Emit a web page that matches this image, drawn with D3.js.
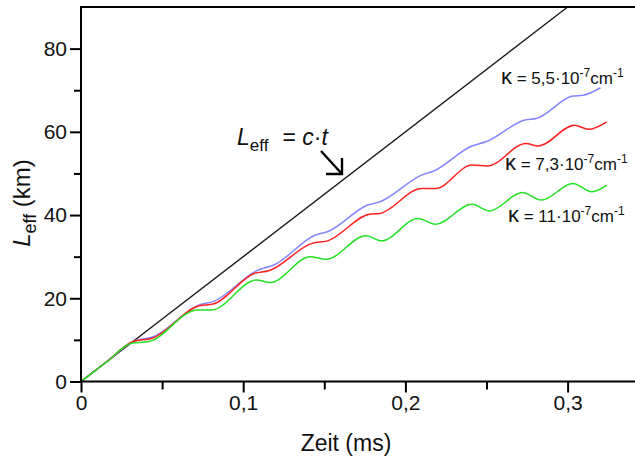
<!DOCTYPE html>
<html>
<head>
<meta charset="utf-8">
<script src="https://cdn.jsdelivr.net/npm/d3@7"></script>
<style>
body{margin:0;background:#fff;}
svg{font-family:"Liberation Sans",Arial,sans-serif;}
</style>
</head>
<body>
<div class="container"></div>
<script>
// time in ms, L_eff in km
var tLight = [0, 0.3];
var lLight = [0, 90];

var tBlue = [0, 0.016, 0.0321, 0.045, 0.0729, 0.0814, 0.1093, 0.1189, 0.1446, 0.152, 0.1768, 0.1843, 0.21, 0.2175, 0.241, 0.2496, 0.2743, 0.2807, 0.3032, 0.3096, 0.3203];
var lBlue = [0, 4.8, 9.6, 10.8, 18.4, 19.2, 26.8, 28, 35.2, 36, 42.4, 43.2, 49.6, 50.6, 56.6, 57.6, 62.9, 63.2, 68.6, 68.8, 70.6];

var tRed = [0, 0.016, 0.0321, 0.0439, 0.0729, 0.0814, 0.1071, 0.1157, 0.1425, 0.152, 0.1778, 0.1843, 0.21, 0.2186, 0.241, 0.2507, 0.2743, 0.2818, 0.3043, 0.3129, 0.3242];
var lRed = [0, 4.8, 9.6, 10.4, 18.2, 18.6, 26, 26.6, 33.2, 33.8, 40.2, 40.4, 46.4, 46.4, 52, 51.8, 57.2, 56.6, 61.6, 60.6, 62.4];

var tGreen = [0, 0.0155, 0.0311, 0.0418, 0.0718, 0.0804, 0.1082, 0.1168, 0.1414, 0.1511, 0.1757, 0.1853, 0.2078, 0.2186, 0.241, 0.2518, 0.2721, 0.2839, 0.3032, 0.315, 0.3242];
var lGreen = [0, 4.6, 9.2, 9.6, 17.2, 17.2, 24.4, 23.8, 30, 29.4, 35, 33.8, 39.2, 37.8, 42.6, 41, 45.4, 43.6, 47.6, 45.6, 47.2];

var xMajor = [0, 0.1, 0.2, 0.3];
var xMinor = [0.05, 0.15, 0.25];
var xLabels = ["0", "0,1", "0,2", "0,3"];
var yMajor = [0, 20, 40, 60, 80];
var yMinor = [10, 30, 50, 70];

var kappaValues = ["5,5", "7,3", "11"];

var series = [
	{t: tBlue, l: lBlue, color: "#8585ff"},
	{t: tRed, l: lRed, color: "#ff2020"},
	{t: tGreen, l: lGreen, color: "#22e022"}
];

var W = 635, H = 462;
var mLeft = 81, mTop = 7, mRight = 635, mBottom = 381.5;

var x = d3.scaleLinear().domain([0, (mRight - mLeft) / 1622]).range([mLeft, mRight]);
var y = d3.scaleLinear().domain([0, 90]).range([mBottom, mTop]);

var svg = d3.select('.container').append('svg')
	.attr("width", W)
	.attr("height", H);

var toPts = function(ts, ls){
	return ts.map(function(t, i){ return [t, ls[i]]; });
};

var line = d3.line()
	.x(function(d){ return x(d[0]); })
	.y(function(d){ return y(d[1]); })
	.curve(d3.curveMonotoneX);

// c*t line
svg.append('path')
	.attr("d", d3.line().x(function(d){return x(d[0]);}).y(function(d){return y(d[1]);})(toPts(tLight, lLight)))
	.attr("fill", "none")
	.attr("stroke", "#1a1a1a")
	.attr("stroke-width", 1.4);

series.forEach(function(s){
	svg.append('path')
		.attr("d", line(toPts(s.t, s.l)))
		.attr("fill", "none")
		.attr("stroke", s.color)
		.attr("stroke-width", 1.5);
});

// axes
var xAxis = d3.axisBottom(x).tickValues(xMajor).tickSize(11).tickPadding(3)
	.tickFormat(function(d, i){ return xLabels[i]; });
svg.append('g').attr("transform", "translate(0," + mBottom + ")").call(xAxis);
svg.append('g').attr("transform", "translate(0," + mBottom + ")")
	.call(d3.axisBottom(x).tickValues(xMinor).tickSize(8).tickFormat(""));

var yAxis = d3.axisLeft(y).tickValues(yMajor).tickSize(11).tickPadding(3);
svg.append('g').attr("transform", "translate(" + mLeft + ",0)").call(yAxis);
svg.append('g').attr("transform", "translate(" + mLeft + ",0)")
	.call(d3.axisLeft(y).tickValues(yMinor).tickSize(7).tickFormat(""));

svg.selectAll('.domain').remove();
svg.selectAll('.tick line').attr("stroke", "#000").attr("stroke-width", 2);
svg.selectAll('.tick text').attr("font-size", 21).attr("fill", "#111")
	.attr("font-family", "Liberation Sans, Arial, sans-serif");

// frame lines: left, bottom, top
svg.append('line').attr("x1", mLeft).attr("x2", mLeft).attr("y1", mTop).attr("y2", mBottom + 1)
	.attr("stroke", "#000").attr("stroke-width", 2);
svg.append('line').attr("x1", mLeft - 1).attr("x2", mRight).attr("y1", mBottom).attr("y2", mBottom)
	.attr("stroke", "#000").attr("stroke-width", 2);
svg.append('line').attr("x1", mLeft - 1).attr("x2", mRight).attr("y1", mTop).attr("y2", mTop)
	.attr("stroke", "#000").attr("stroke-width", 2);

// axis titles
svg.append('text').attr("x", 346).attr("y", 451).attr("text-anchor", "middle")
	.attr("font-size", 23).attr("fill", "#111").text("Zeit (ms)");

var yt = svg.append('text').attr("transform", "translate(30,203) rotate(-90)")
	.attr("text-anchor", "middle").attr("font-size", 24).attr("fill", "#111");
yt.append('tspan').attr("font-style", "italic").text("L");
yt.append('tspan').attr("font-size", 18).attr("dy", 6).text("eff");
yt.append('tspan').attr("dy", -6).text(" (km)");

// L_eff = c·t annotation
var ann = svg.append('text').attr("x", 237).attr("y", 145).attr("font-size", 23).attr("fill", "#111");
ann.append('tspan').attr("font-style", "italic").text("L");
ann.append('tspan').attr("font-size", 17).attr("dy", 6).text("eff");
ann.append('tspan').attr("dy", -6).attr("dx", 14).text("= ");
ann.append('tspan').attr("font-style", "italic").text("c");
ann.append('tspan').text("·");
ann.append('tspan').attr("font-style", "italic").text("t");

svg.append('path')
	.attr("d", "M321,151L342,174M326,174L342,174L342,158")
	.attr("fill", "none").attr("stroke", "#000").attr("stroke-width", 2.4);

// kappa labels
var kappaPos = [[501, 84], [505, 170], [508, 222]];
kappaValues.forEach(function(v, i){
	var t = svg.append('text').attr("x", kappaPos[i][0]).attr("y", kappaPos[i][1])
		.attr("font-size", 17).attr("fill", "#111");
	t.append('tspan').attr("font-size", 22).text("\u03ba");
	t.append('tspan').text(" = " + v + "\u00b710");
	t.append('tspan').attr("font-size", 12).attr("dy", -7).text("-7");
	t.append('tspan').attr("dy", 7).text("cm");
	t.append('tspan').attr("font-size", 12).attr("dy", -7).text("-1");
});
</script>
</body>
</html>
